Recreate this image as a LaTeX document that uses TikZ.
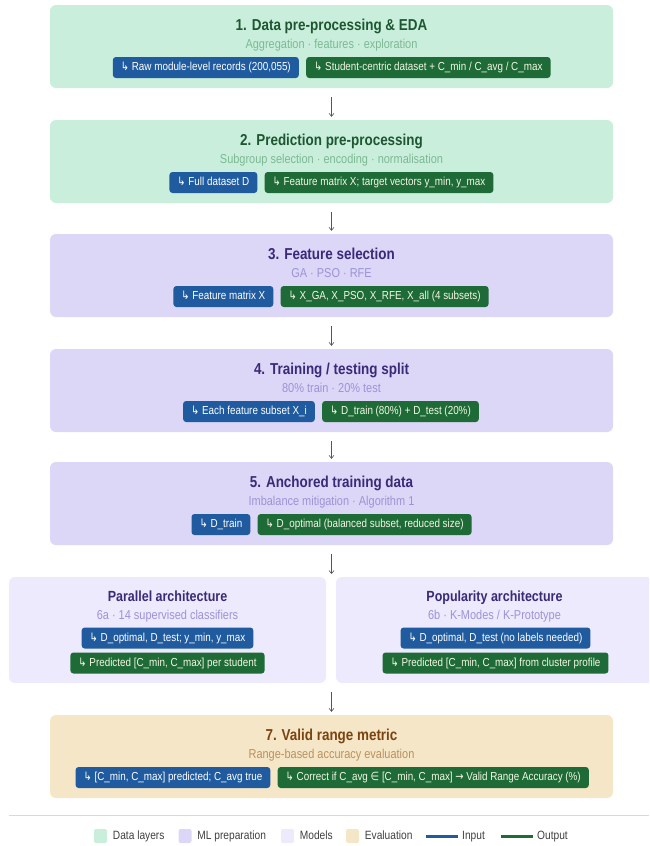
\documentclass[tikz,border=0pt]{standalone}
\usepackage{fontspec}
\setmainfont{Liberation Sans}[FakeStretch=0.85]
\newfontfamily\symfont{DejaVu Sans}[FakeStretch=0.85]
\usetikzlibrary{arrows.meta,positioning}

\definecolor{datafill}{HTML}{C9EFDC}
\definecolor{datatitle}{HTML}{1E5631}
\definecolor{datasub}{HTML}{7DB894}
\definecolor{prepfill}{HTML}{DCD6F7}
\definecolor{preptitle}{HTML}{3B2A78}
\definecolor{prepsub}{HTML}{9D93D6}
\definecolor{modelfill}{HTML}{ECEAFC}
\definecolor{evalfill}{HTML}{F5E6C8}
\definecolor{evaltitle}{HTML}{7A4411}
\definecolor{evalsub}{HTML}{B9915F}
\definecolor{inblue}{HTML}{1F5B9E}
\definecolor{outgreen}{HTML}{1F6B37}
\definecolor{outtext}{HTML}{F2F7E4}
\definecolor{arrowgray}{HTML}{555555}

\def\hook{{\symfont ↳}\ }

\tikzset{
  stagebox/.style={rounded corners=6pt, minimum width=563pt, minimum height=83pt, inner sep=0pt},
  stagetitle/.style={font=\fontsize{15.8}{18}\selectfont\bfseries, anchor=base, inner sep=0pt},
  stagesub/.style={font=\fontsize{12.9}{15}\selectfont, anchor=base, inner sep=0pt},
  pill/.style={rounded corners=3pt, minimum height=21pt, inner xsep=8pt, inner ysep=0pt,
    text height=8.6pt, text depth=2.4pt, font=\fontsize{11.6}{14}\selectfont},
  inpill/.style={pill, fill=inblue, text=white},
  outpill/.style={pill, fill=outgreen, text=outtext},
  flow/.style={draw=arrowgray, line width=0.6pt, -{Straight Barb[length=3pt,width=5pt]},
    shorten <=9pt, shorten >=3pt},
  legendbox/.style={rounded corners=2pt, minimum width=13pt, minimum height=14pt, inner sep=0pt},
  legendtext/.style={font=\fontsize{12}{14}\selectfont, text=black!75, inner sep=0pt,
    text height=8.8pt, text depth=2.6pt},
}

% name, top, kind, title, subtitle, input, output, gap between pills
\newcommand{\stage}[8]{%
  \node[stagebox, fill=#3fill] (#1) at (331.5,#2+41.5) {};
  \node[stagetitle, text=#3title] (#1-title) at (331.5,#2+25) {#4};
  \node[stagesub, text=#3sub] (#1-sub) at (331.5,#2+43) {#5};
  \node[inpill, anchor=east] (#1-in) at (#8-3.5,#2+62.5) {\hook #6};
  \node[outpill, right=7pt of #1-in] (#1-out) {\hook #7};
}

\begin{document}
\begin{tikzpicture}[x=1pt, y=-1pt]
\clip (0,0) rectangle (649,846);

\stage{s1}{5}{data}{1. Data pre-processing \& EDA}{Aggregation · features · exploration}
  {Raw module-level records (200,055)}{Student-centric dataset + C\_min / C\_avg / C\_max}{302.5}
\stage{s2}{120}{data}{2. Prediction pre-processing}{Subgroup selection · encoding · normalisation}
  {Full dataset D}{Feature matrix X; target vectors y\_min, y\_max}{261}
\stage{s3}{234}{prep}{3. Feature selection}{GA · PSO · RFE}
  {Feature matrix X}{X\_GA, X\_PSO, X\_RFE, X\_all (4 subsets)}{277}
\stage{s4}{349}{prep}{4. Training / testing split}{80\% train · 20\% test}
  {Each feature subset X\_i}{D\_train (80\%) + D\_test (20\%)}{318.5}
\stage{s5}{462}{prep}{5. Anchored training data}{Imbalance mitigation · Algorithm 1}
  {D\_train}{D\_optimal (balanced subset, reduced size)}{254}
\stage{s7}{715}{eval}{7. Valid range metric}{Range-based accuracy evaluation}
  {[C\_min, C\_max] predicted; C\_avg true}
  {Correct if C\_avg {\symfont ∈} [C\_min, C\_max] {\symfont →} Valid Range Accuracy (\%)}{274}

% the two model architectures
\node[stagebox, minimum width=317pt, minimum height=106pt, fill=modelfill] (par) at (167.5,630) {};
\node[stagetitle, font=\fontsize{14.7}{17}\selectfont\bfseries, text=preptitle] (par-title) at (167.5,601) {Parallel architecture};
\node[stagesub, text=prepsub] (par-sub) at (167.5,619) {6a · 14 supervised classifiers};
\node[inpill] (par-in) at (167.5,638) {\hook D\_optimal, D\_test; y\_min, y\_max};
\node[outpill] (par-out) at (167.5,663) {\hook Predicted [C\_min, C\_max] per student};

\node[stagebox, minimum width=317pt, minimum height=106pt, fill=modelfill] (pop) at (494.5,630) {};
\node[stagetitle, font=\fontsize{14.7}{17}\selectfont\bfseries, text=preptitle] (pop-title) at (494.5,601) {Popularity architecture};
\node[stagesub, text=prepsub] (pop-sub) at (494.5,619) {6b · K-Modes / K-Prototype};
\node[inpill] (pop-in) at (495.5,638) {\hook D\_optimal, D\_test (no labels needed)};
\node[outpill] (pop-out) at (495.5,663) {\hook Predicted [C\_min, C\_max] from cluster profile};

\coordinate (split-top) at (331.5,577);
\coordinate (split-bot) at (331.5,683);

\draw[flow] (s1) -- (s2);
\draw[flow] (s2) -- (s3);
\draw[flow] (s3) -- (s4);
\draw[flow] (s4) -- (s5);
\draw[flow] (s5) -- (split-top);
\draw[flow] (split-bot) -- (s7);

% legend
\draw[black!15, line width=0.8pt] (9,815) -- (649,815);
\foreach \x/\c/\t in {94/datafill/Data layers, 178.5/prepfill/ML preparation, 281/modelfill/Models, 346/evalfill/Evaluation} {
  \node[legendbox, fill=\c] (key-\c) at (\x+6.5,836) {};
  \node[legendtext, right=5.5pt of key-\c] {\t};
}
\foreach \x/\c/\t in {426/inblue/Input, 501/outgreen/Output} {
  \coordinate (key-\c) at (\x,836);
  \draw[\c, line width=3pt] (key-\c) -- ++(32,0) coordinate (key-\c-end);
  \node[legendtext, right=4pt of key-\c-end] {\t};
}
\end{tikzpicture}
\end{document}
